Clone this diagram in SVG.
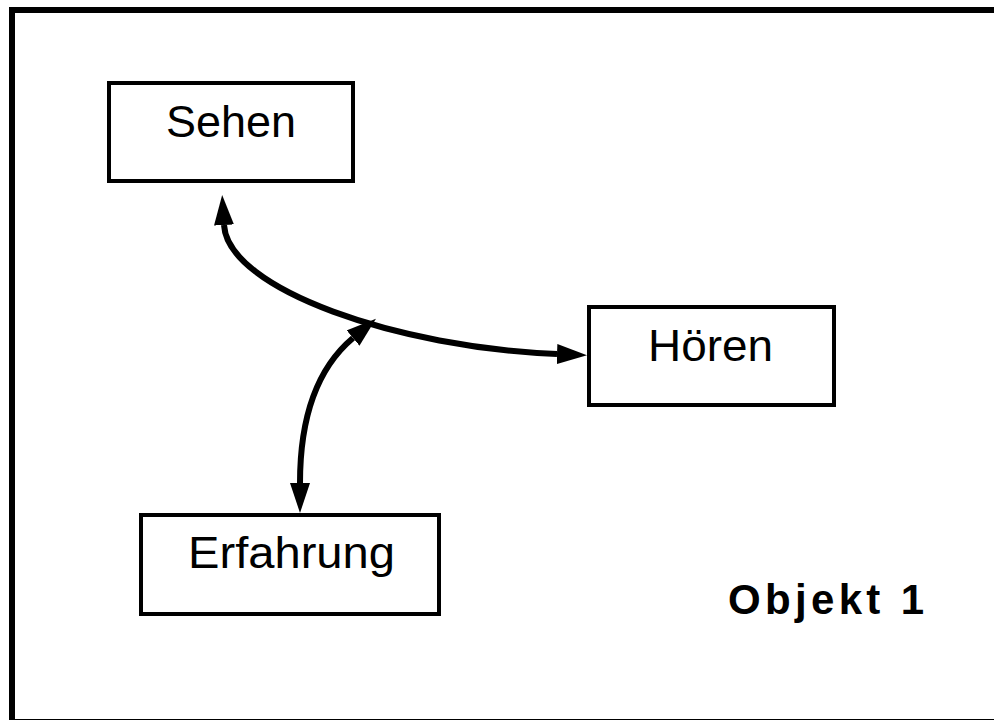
<svg xmlns="http://www.w3.org/2000/svg" width="994" height="720" viewBox="0 0 994 720">
  <style>
    .box { fill: #ffffff; stroke: #000000; stroke-width: 4; }
    .label { font-family: "Liberation Sans", Arial, sans-serif; font-size: 44px; fill: #000000; text-anchor: middle; }
    .title { font-family: "Liberation Sans", Arial, sans-serif; font-size: 42px; font-weight: bold; fill: #000000; }
    .conn { fill: none; stroke: #000000; stroke-width: 6; }
  </style>
  <defs>
    <marker id="arrow" markerUnits="userSpaceOnUse" viewBox="0 -10 30 20" refX="0" refY="0" markerWidth="30" markerHeight="20" orient="auto-start-reverse">
      <path d="M0,-10 L30,0 L0,10 z" fill="#000000"/>
    </marker>
  </defs>
  <rect x="0" y="0" width="994" height="720" fill="#ffffff"/>
  <rect id="frame" x="12" y="10" width="1000" height="712" fill="none" stroke="#000000" stroke-width="6"/>

  <g id="connectors">
    <path class="conn" d="M224,225 C228,290 400,348 557,354" marker-start="url(#arrow)" marker-end="url(#arrow)"/>
    <path class="conn" d="M300,483 C300,420 315,370 353,338" marker-start="url(#arrow)" marker-end="url(#arrow)"/>
  </g>

  <g id="sehen">
    <rect class="box" x="109" y="83" width="244" height="98"/>
    <text class="label" x="231" y="137" textLength="130" lengthAdjust="spacingAndGlyphs">Sehen</text>
  </g>
  <g id="hoeren">
    <rect class="box" x="589" y="307" width="245" height="98"/>
    <text class="label" x="710.5" y="361" textLength="125" lengthAdjust="spacingAndGlyphs">Hören</text>
  </g>
  <g id="erfahrung">
    <rect class="box" x="141" y="515" width="298" height="99"/>
    <text class="label" x="291.5" y="568" textLength="207" lengthAdjust="spacingAndGlyphs">Erfahrung</text>
  </g>
  <g id="objekt">
    <text class="title" x="728" y="614" textLength="196" lengthAdjust="spacing">Objekt 1</text>
  </g>
</svg>
